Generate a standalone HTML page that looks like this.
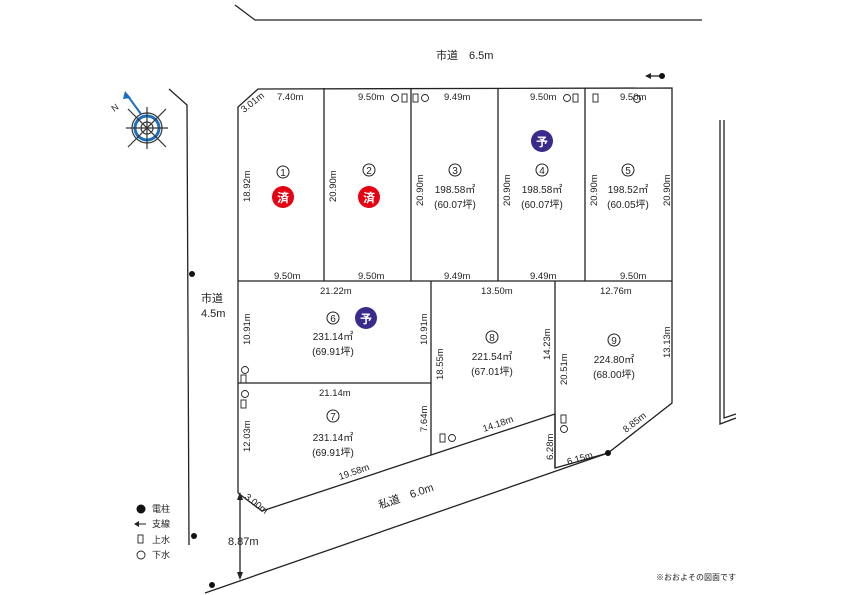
<!DOCTYPE html>
<html><head><meta charset="utf-8"><style>
html,body{margin:0;padding:0;background:#fff}
svg{display:block}
text{font-family:"Liberation Sans","Noto Sans CJK JP",sans-serif;fill:#222}
</style></head><body>
<svg width="842" height="595" viewBox="0 0 842 595" xmlns="http://www.w3.org/2000/svg">
<g stroke="#222" stroke-width="1.3" fill="none">
<!-- roads -->
<polyline points="235,5 255,20 702,20"/>
<polyline points="169,89 187,105 189,545"/>
<polyline points="720,120 720,424 736,418"/>
<polyline points="724,120 724,418 736,414"/>
<line x1="205" y1="593" x2="608" y2="453"/>
<!-- lots outer -->
<polyline points="238,493 238,107 258,89 672,88 672,403 608,453 555,468 555,414 262,511 238,493"/>
<line x1="238" y1="281" x2="672" y2="281"/>
<line x1="324" y1="88" x2="324" y2="281"/>
<line x1="411" y1="88" x2="411" y2="281"/>
<line x1="498" y1="88" x2="498" y2="281"/>
<line x1="585" y1="88" x2="585" y2="281"/>
<line x1="238" y1="383" x2="431" y2="383"/>
<line x1="431" y1="281" x2="431" y2="455"/>
<line x1="555" y1="281" x2="555" y2="468"/>
<!-- 8.87 arrow -->
<line x1="240" y1="497" x2="240" y2="578"/>
<line x1="647" y1="76" x2="662" y2="76"/>
</g>
<polygon points="240,492 237,500 243,500" fill="#222"/>
<polygon points="240,580 237,572 243,572" fill="#222"/>
<polygon points="645,76 651,73 651,79" fill="#222"/>
<g fill="#111">
<circle cx="662" cy="76" r="3"/><circle cx="192" cy="274" r="3"/><circle cx="194" cy="536" r="3"/>
<circle cx="212" cy="585" r="3"/><circle cx="608" cy="453" r="3"/>
</g>
<!-- compass -->
<g transform="translate(147,128)" stroke-width="1.2" fill="none">
<circle r="15" stroke="#333"/><circle r="12" stroke="#1a6fbf" stroke-width="3"/><circle r="6" stroke="#333"/>
<line x1="-19" y1="-19" x2="19" y2="19" stroke="#333"/><line x1="19" y1="-19" x2="-19" y2="19" stroke="#333"/>
<line x1="-21" y1="0" x2="21" y2="0" stroke="#333"/><line x1="0" y1="-21" x2="0" y2="21" stroke="#333"/>
<line x1="-6" y1="-14" x2="-20" y2="-33" stroke="#1a6fbf" stroke-width="2"/>
<polygon points="-22,-37 -16,-30 -24,-29" fill="#1a6fbf"/>
</g>
<text x="114" y="112" font-size="9" fill="#1a6fbf" transform="rotate(-35 114 112)">N</text>
<!-- labels -->
<g font-size="9.5">
<text x="436" y="59" font-size="11">市道　6.5m</text>
<text x="201" y="302" font-size="11">市道</text><text x="201" y="317" font-size="11">4.5m</text>
<text x="380" y="509" font-size="11" transform="rotate(-19 380 509)">私道　6.0m</text>
<text x="228" y="545" font-size="11">8.87m</text>
<text x="244" y="113" transform="rotate(-38 244 113)">3.01m</text>
<text x="277" y="100">7.40m</text><text x="358" y="100">9.50m</text><text x="444" y="100">9.49m</text>
<text x="530" y="100">9.50m</text><text x="620" y="100">9.50m</text>
<text x="274" y="279">9.50m</text><text x="358" y="279">9.50m</text><text x="444" y="279">9.49m</text>
<text x="530" y="279">9.49m</text><text x="620" y="279">9.50m</text>
<text x="320" y="294">21.22m</text><text x="481" y="294">13.50m</text><text x="600" y="294">12.76m</text>
<text x="319" y="396">21.14m</text>
<text x="340" y="480" transform="rotate(-19 340 480)">19.58m</text>
<text x="484" y="432" transform="rotate(-19 484 432)">14.18m</text>
<text x="568" y="465" transform="rotate(-16 568 465)">6.15m</text>
<text x="626" y="433" transform="rotate(-38 626 433)">8.85m</text>
<text x="244" y="498" transform="rotate(38 244 498)">3.00m</text>
<g>
<text transform="translate(250,202) rotate(-90)">18.92m</text>
<text transform="translate(336,202) rotate(-90)">20.90m</text>
<text transform="translate(423,206) rotate(-90)">20.90m</text>
<text transform="translate(510,206) rotate(-90)">20.90m</text>
<text transform="translate(597,206) rotate(-90)">20.90m</text>
<text transform="translate(670,206) rotate(-90)">20.90m</text>
<text transform="translate(250,345) rotate(-90)">10.91m</text>
<text transform="translate(427,345) rotate(-90)">10.91m</text>
<text transform="translate(250,452) rotate(-90)">12.03m</text>
<text transform="translate(427,432) rotate(-90)">7.64m</text>
<text transform="translate(443,380) rotate(-90)">18.55m</text>
<text transform="translate(550,360) rotate(-90)">14.23m</text>
<text transform="translate(567,385) rotate(-90)">20.51m</text>
<text transform="translate(670,358) rotate(-90)">13.13m</text>
<text transform="translate(553,460) rotate(-90)">6.28m</text>
</g>
</g>
<!-- lot numbers -->
<g font-size="10" text-anchor="middle" stroke="none">
<g fill="none" stroke="#222" stroke-width="1">
<circle cx="283" cy="172" r="6"/><circle cx="369" cy="170" r="6"/><circle cx="455" cy="170" r="6"/>
<circle cx="542" cy="170" r="6"/><circle cx="628" cy="170" r="6"/><circle cx="333" cy="318" r="6"/>
<circle cx="492" cy="337" r="6"/><circle cx="614" cy="340" r="6"/><circle cx="333" cy="416" r="6"/>
</g>
<text x="283" y="176">1</text><text x="369" y="174">2</text><text x="455" y="174">3</text><text x="542" y="174">4</text>
<text x="628" y="174">5</text><text x="333" y="322">6</text><text x="492" y="341">8</text><text x="614" y="344">9</text><text x="333" y="420">7</text>
<text x="455" y="193">198.58㎡</text><text x="455" y="208">(60.07坪)</text>
<text x="542" y="193">198.58㎡</text><text x="542" y="208">(60.07坪)</text>
<text x="628" y="193">198.52㎡</text><text x="628" y="208">(60.05坪)</text>
<text x="333" y="340">231.14㎡</text><text x="333" y="355">(69.91坪)</text>
<text x="492" y="360">221.54㎡</text><text x="492" y="375">(67.01坪)</text>
<text x="614" y="363">224.80㎡</text><text x="614" y="378">(68.00坪)</text>
<text x="333" y="441">231.14㎡</text><text x="333" y="456">(69.91坪)</text>
</g>
<g text-anchor="middle" font-size="12" font-weight="bold">
<circle cx="283" cy="197" r="11" fill="#e60012"/><text x="283" y="202" style="fill:#fff">済</text>
<circle cx="369" cy="197" r="11" fill="#e60012"/><text x="369" y="202" style="fill:#fff">済</text>
<circle cx="542" cy="141" r="11" fill="#3a2a8c"/><text x="542" y="146" style="fill:#fff">予</text>
<circle cx="366" cy="318" r="11" fill="#3a2a8c"/><text x="366" y="323" style="fill:#fff">予</text>
</g>
<!-- water markers -->
<g fill="none" stroke="#222" stroke-width="0.9">
<circle cx="395" cy="98" r="3.5"/><rect x="402" y="94" width="5" height="8"/><rect x="413" y="94" width="5" height="8"/><circle cx="425" cy="98" r="3.5"/>
<circle cx="567" cy="98" r="3.5"/><rect x="573" y="94" width="5" height="8"/><rect x="593" y="94" width="5" height="8"/><circle cx="637" cy="99" r="3.5"/>
<circle cx="245" cy="370" r="3.5"/><rect x="241" y="375" width="5" height="8"/>
<circle cx="245" cy="394" r="3.5"/><rect x="241" y="400" width="5" height="8"/>
<rect x="440" y="434" width="5" height="8"/><circle cx="452" cy="438" r="3.5"/>
<circle cx="564" cy="429" r="3.5"/><rect x="561" y="415" width="5" height="8"/>
<rect x="138" y="535" width="5" height="8"/><circle cx="141" cy="555" r="4"/>
</g>
<circle cx="141" cy="509" r="4.5" fill="#111"/>
<line x1="136" y1="524" x2="146" y2="524" stroke="#222"/><polygon points="134,524 139,521 139,527" fill="#222"/>
<g font-size="9"><text x="152" y="512">電柱</text><text x="152" y="527">支線</text><text x="152" y="543">上水</text><text x="152" y="558">下水</text>
<text x="656" y="580" font-size="8">※おおよその図面です</text></g>
</svg>
</body></html>
